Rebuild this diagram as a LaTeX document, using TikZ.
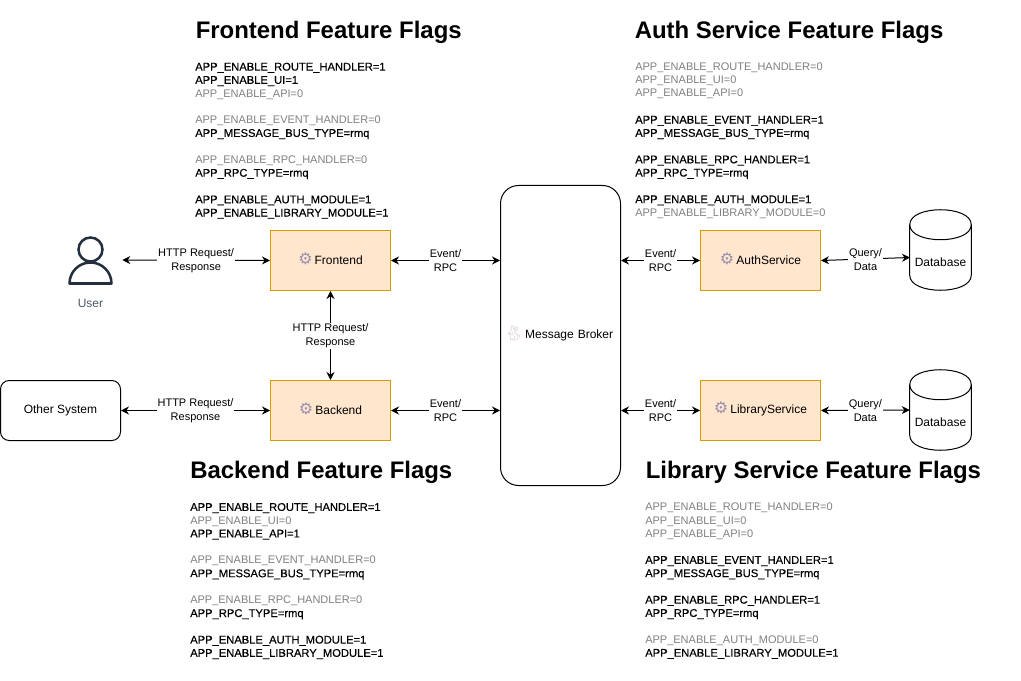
\documentclass[tikz,border=0pt]{standalone}
\usepackage{fontspec}
\usepackage{xcolor}
\setmainfont{Liberation Sans}
\newfontfamily\gearfont{DejaVu Sans}
\newfontfamily\rabbitfont{Noto Emoji}
\newfontfamily\flagonfont[FakeBold=0.35]{Liberation Sans}
\usetikzlibrary{arrows.meta}
\definecolor{svcfill}{HTML}{FFE6CC}
\definecolor{svcdraw}{HTML}{D79B00}
\definecolor{flagoff}{HTML}{808080}
\definecolor{userdraw}{HTML}{232F3E}
\definecolor{gearcolor}{HTML}{9A90B0}
\definecolor{rabbitcolor}{HTML}{D8C8C8}
\newcommand{\gear}{\smash{\fontsize{12}{12}\gearfont\textcolor{gearcolor}{\char"2699}}\,}
\newcommand{\onfont}{\flagonfont\fontsize{8.38}{9.95}\selectfont}
\newcommand{\fon}[1]{{\onfont #1}\\}
\newcommand{\foff}[1]{\textcolor{flagoff}{#1}\\}
\newcommand{\fgap}{\mbox{}\\}
\tikzset{
  >={Stealth[length=6pt,width=6pt]},
  every node/.style={font=\fontsize{9}{10.5}\selectfont},
  svcbox/.style={draw=svcdraw,fill=svcfill,line width=0.75pt,minimum width=90pt,minimum height=45pt,inner sep=0pt},
  plainbox/.style={draw=black,line width=0.75pt,rounded corners=6.5pt,minimum width=90pt,minimum height=45pt,inner sep=0pt},
  dbnode/.style={minimum width=45.75pt,minimum height=60pt,inner sep=0pt},
  link/.style={<->,line width=0.75pt},
  linklabel/.style={fill=white,align=center,inner sep=0.6pt,yshift=-0.3pt,font=\fontsize{8.25}{10.5}\selectfont},
  flagtitle/.style={anchor=west,inner sep=0pt,font=\fontsize{17.95}{20}\selectfont\bfseries},
  flaglist/.style={anchor=north west,align=left,inner sep=0pt,font=\fontsize{8.25}{9.95}\selectfont}
}
\begin{document}
\begin{tikzpicture}[x=0.75pt,y=-0.75pt]
\useasboundingbox (0,0) rectangle (1021,681);

%titles%
\node[flagtitle] (FrontendTitle) at (195.5,32) {Frontend Feature Flags};
\node[flagtitle] (AuthTitle) at (634.5,32) {Auth Service Feature Flags};
\node[flagtitle] (BackendTitle) at (190,472) {Backend Feature Flags};
\node[flagtitle] (LibraryTitle) at (645.5,472) {Library Service Feature Flags};

%flag lists%
\node[flaglist] (FrontendFlags) at (195,62.5) {%
\fon{APP\_ENABLE\_ROUTE\_HANDLER=1}\fon{APP\_ENABLE\_UI=1}\foff{APP\_ENABLE\_API=0}\fgap
\foff{APP\_ENABLE\_EVENT\_HANDLER=0}\fon{APP\_MESSAGE\_BUS\_TYPE=rmq}\fgap
\foff{APP\_ENABLE\_RPC\_HANDLER=0}\fon{APP\_RPC\_TYPE=rmq}\fgap
\fon{APP\_ENABLE\_AUTH\_MODULE=1}{\onfont APP\_ENABLE\_LIBRARY\_MODULE=1}};
\node[flaglist] (AuthFlags) at (635,62.5) {%
\foff{APP\_ENABLE\_ROUTE\_HANDLER=0}\foff{APP\_ENABLE\_UI=0}\foff{APP\_ENABLE\_API=0}\fgap
\fon{APP\_ENABLE\_EVENT\_HANDLER=1}\fon{APP\_MESSAGE\_BUS\_TYPE=rmq}\fgap
\fon{APP\_ENABLE\_RPC\_HANDLER=1}\fon{APP\_RPC\_TYPE=rmq}\fgap
\fon{APP\_ENABLE\_AUTH\_MODULE=1}\textcolor{flagoff}{APP\_ENABLE\_LIBRARY\_MODULE=0}};
\node[flaglist] (BackendFlags) at (190,502.8) {%
\fon{APP\_ENABLE\_ROUTE\_HANDLER=1}\foff{APP\_ENABLE\_UI=0}\fon{APP\_ENABLE\_API=1}\fgap
\foff{APP\_ENABLE\_EVENT\_HANDLER=0}\fon{APP\_MESSAGE\_BUS\_TYPE=rmq}\fgap
\foff{APP\_ENABLE\_RPC\_HANDLER=0}\fon{APP\_RPC\_TYPE=rmq}\fgap
\fon{APP\_ENABLE\_AUTH\_MODULE=1}{\onfont APP\_ENABLE\_LIBRARY\_MODULE=1}};
\node[flaglist] (LibraryFlags) at (645,502.8) {%
\foff{APP\_ENABLE\_ROUTE\_HANDLER=0}\foff{APP\_ENABLE\_UI=0}\foff{APP\_ENABLE\_API=0}\fgap
\fon{APP\_ENABLE\_EVENT\_HANDLER=1}\fon{APP\_MESSAGE\_BUS\_TYPE=rmq}\fgap
\fon{APP\_ENABLE\_RPC\_HANDLER=1}\fon{APP\_RPC\_TYPE=rmq}\fgap
\foff{APP\_ENABLE\_AUTH\_MODULE=0}{\onfont APP\_ENABLE\_LIBRARY\_MODULE=1}};

%boxes%
\node[svcbox] (Frontend) at (330.5,260.5) {\gear Frontend};
\node[svcbox] (Backend) at (330.5,410.5) {\gear Backend};
\node[svcbox] (AuthService) at (760.5,260.5) {\gear AuthService};
\node[svcbox] (LibraryService) at (760.5,410.5) {\gear LibraryService};
\node[plainbox,rounded corners=13.5pt,minimum height=225pt,text width=88pt,align=center] (MessageBroker) at (560.5,335.5) {\hspace*{-2.5pt}\smash{\fontsize{11}{11}\rabbitfont\textcolor{rabbitcolor}{\char"1F407}}\,Message Broker};
\node[plainbox] (OtherSystem) at (60.5,410.5) {Other System};

%user, arrow stops short of the icon%
\node[minimum width=48pt,minimum height=45pt,inner sep=0pt] (User) at (90,260) {};
\draw[userdraw,line width=1.9pt] (90.5,249.5) circle (12);
\draw[userdraw,line width=1.9pt,line join=round] (69.5,283.5) arc (180:360:21) -- cycle;
\node[text=userdraw!80] (UserLabel) at (90.5,303.5) {User};

%databases%
\node[dbnode,label={[yshift=-9pt]center:Database}] (AuthDb) at (940.5,250) {};
\node[dbnode,label={[yshift=-9pt]center:Database}] (LibraryDb) at (940.5,410) {};
\coordinate (AuthDbIn) at (910,257.5);
\foreach \db in {AuthDb,LibraryDb} {
  \draw[line width=0.75pt] ([yshift=-11.25pt]\db.north west) .. controls +(0,-20) and +(0,-20) .. ([yshift=-11.25pt]\db.north east)
    -- ([yshift=11.25pt]\db.south east) .. controls +(0,20) and +(0,20) .. ([yshift=11.25pt]\db.south west) -- cycle;
  \draw[line width=0.75pt] ([yshift=-11.25pt]\db.north west) .. controls +(0,20) and +(0,20) .. ([yshift=-11.25pt]\db.north east);
}

%connectors%
\draw[link] (User.east) -- node[linklabel] {HTTP Request/\\Response} (Frontend.west);
\draw[link] (OtherSystem.east) -- node[linklabel] {HTTP Request/\\Response} (Backend.west);
\draw[link] (Frontend.south) -- node[linklabel] {HTTP Request/\\Response} (Backend.north);
\draw[link] (Frontend.east) -- node[linklabel] {Event/\\RPC} (Frontend.east -| MessageBroker.west);
\draw[link] (Backend.east) -- node[linklabel] {Event/\\RPC} (Backend.east -| MessageBroker.west);
\draw[link] (AuthService.west -| MessageBroker.east) -- node[linklabel] {Event/\\RPC} (AuthService.west);
\draw[link] (LibraryService.west -| MessageBroker.east) -- node[linklabel] {Event/\\RPC} (LibraryService.west);
\draw[link] (AuthService.east) -- node[linklabel] {Query/\\Data} (AuthDbIn);
\draw[link] (LibraryService.east) -- node[linklabel] {Query/\\Data} (LibraryDb.west);

\end{tikzpicture}
\end{document}
